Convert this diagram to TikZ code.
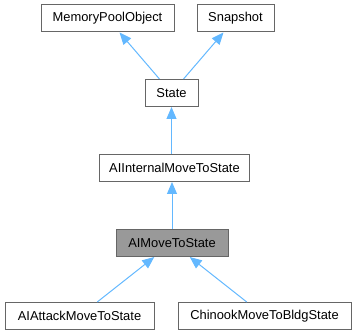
\documentclass[tikz,border=0pt]{standalone}
\usepackage{fontspec}
\setmainfont{Liberation Sans}
\usetikzlibrary{arrows.meta,positioning}
\definecolor{edgeblue}{RGB}{99,184,255}
\definecolor{boxborder}{RGB}{102,102,102}
\definecolor{curfill}{RGB}{153,153,153}

\tikzset{
  classbox/.style={draw=boxborder, fill=white, line width=1pt, inner sep=0pt,
    minimum height=27pt, font=\fontsize{12.9}{15}\selectfont},
  currentbox/.style={classbox, fill=curfill},
  inherit/.style={draw=edgeblue, line width=1pt,
    -{Triangle[length=12pt, width=10pt, fill=edgeblue]}}
}

\begin{document}
\begin{tikzpicture}[x=1pt, y=-1pt]
  \useasboundingbox (0,0) rectangle (357,336);
  % class boxes, top row down to the leaves
  \node[classbox, minimum width=133pt] (mpo) at (107.5,18.5) {MemoryPoolObject};
  \node[classbox, minimum width=77pt] (snap) at (235.5,18.5) {Snapshot};
  \node[classbox, minimum width=53pt] (state) at (171.5,93) {State};
  \node[classbox, minimum width=150pt] (internal) at (174.5,168) {AIInternalMoveToState};
  \node[currentbox, minimum width=112pt] (move) at (172,243) {AIMoveToState};
  \node[classbox, minimum width=149pt] (attack) at (79.5,316) {AIAttackMoveToState};
  \node[classbox, minimum width=173pt] (chinook) at (264.5,316) {ChinookMoveToBldgState};

  % inheritance edges
  \draw[inherit] (state) -- (mpo);
  \draw[inherit] (state) -- (snap);
  \draw[inherit] (internal.north -| state) -- (state);
  \draw[inherit] (move) -- (move |- internal.south);
  \draw[inherit] (attack) -- (move);
  \draw[inherit] (chinook) -- (move);
\end{tikzpicture}
\end{document}
